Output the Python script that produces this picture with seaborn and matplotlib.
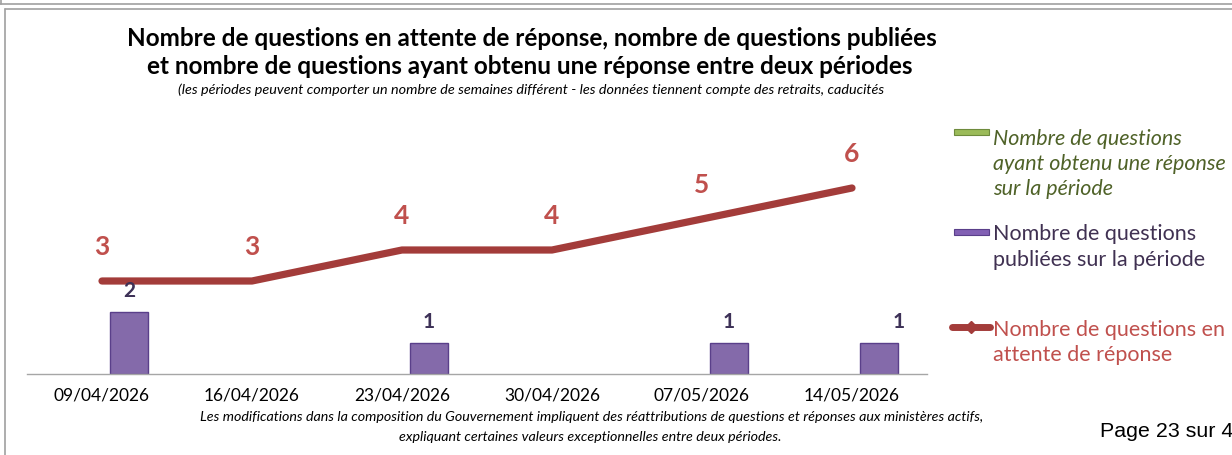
import numpy as np
import pandas as pd
import seaborn as sns
import matplotlib
matplotlib.use("Agg")
from matplotlib import pyplot as plt
from matplotlib.patches import Rectangle
from matplotlib.lines import Line2D

# data
dates = ["09/04/2026", "16/04/2026", "23/04/2026", "30/04/2026", "07/05/2026", "14/05/2026"]
repondues = [0, 0, 0, 0, 0, 0]          # green series (answered)
publiees = [2, 0, 1, 0, 1, 1]           # purple bars (published)
en_attente = [3, 3, 4, 4, 5, 6]         # red line (pending)

lbl_green = "Nombre de questions\nayant obtenu une réponse\nsur la période"
lbl_purple = "Nombre de questions\npubliées sur la période"
lbl_red = "Nombre de questions en\nattente de réponse"

sns.set_style("white")
plt.rcParams['font.family'] = ['Lato', 'DejaVu Sans']

W, H = 1232, 456
fig = plt.figure(figsize=(W / 100, H / 100), dpi=100)

def fx(px):
    return px / W

def fy(py):
    return 1 - py / H

# axes: baseline at y=375px, 31 px per unit
ax = fig.add_axes([fx(27), fy(375), fx(900), (375 - 127) / H])

df = pd.DataFrame({
    "date": dates * 2,
    "serie": ["rep"] * 6 + ["pub"] * 6,
    "val": repondues + publiees,
})
sns.barplot(data=df, x="date", y="val", hue="serie", hue_order=["rep", "pub"],
            palette={"rep": "#9BBB59", "pub": "#8260B4"}, width=0.72, gap=0.3,
            edgecolor="#5A3F8A", linewidth=1, legend=False, ax=ax, errorbar=None)
# hide zero-height green bars
for p in ax.patches:
    if p.get_height() == 0:
        p.set_visible(False)

pos = np.arange(len(dates))
sns.lineplot(x=pos, y=en_attente, color="#A33C3A", linewidth=5.2, ax=ax,
             solid_capstyle="round", solid_joinstyle="round", zorder=3)

ax.set_xlim(-0.5, len(dates) - 0.5)
ax.set_ylim(0, 8)
ax.set_xlabel("")
ax.set_ylabel("")
ax.set_yticks([])
ax.set_xticks(pos)
ax.set_xticklabels(dates, fontsize=12.5, color="black")
ax.tick_params(axis="x", length=0, pad=9)
for s in ["top", "right", "left"]:
    ax.spines[s].set_visible(False)
ax.spines["bottom"].set_color("#A6A6A6")
ax.spines["bottom"].set_linewidth(1)

# value labels
for i, v in enumerate(en_attente):
    ax.annotate(str(v), (i, v), xytext=(0, 25), textcoords="offset points",
                ha="center", va="center", color="#C0504D", fontsize=19, fontweight="bold")
bar_off = 0.18
for i, v in enumerate(publiees):
    if v > 0:
        dx = 14 if i == len(dates) - 1 else 0
        ax.annotate(str(v), (i + bar_off, v), xytext=(dx, 16), textcoords="offset points",
                    ha="center", va="center", color="#3D3157", fontsize=15, fontweight="bold")

# titles
fig.text(fx(532), fy(38), "Nombre de questions en attente de réponse, nombre de questions publiées",
         ha="center", va="center", fontsize=17.5, fontweight="bold", color="black")
fig.text(fx(530), fy(66), "et nombre de questions ayant obtenu une réponse entre deux périodes",
         ha="center", va="center", fontsize=17.5, fontweight="bold", color="black")
fig.text(fx(531), fy(90), "(les périodes peuvent comporter un nombre de semaines différent - les données tiennent compte des retraits, caducités",
         ha="center", va="center", fontsize=10.4, style="italic", color="black")

# footer note
fig.text(fx(592), fy(417), "Les modifications dans la composition du Gouvernement impliquent des réattributions de questions et réponses aux ministères actifs,",
         ha="center", va="center", fontsize=10.3, style="italic", color="black")
fig.text(fx(590), fy(437), "expliquant certaines valeurs exceptionnelles entre deux périodes.",
         ha="center", va="center", fontsize=10.3, style="italic", color="black")
fig.text(fx(1100), fy(432), "Page 23 sur 4", ha="left", va="center", fontsize=15.4,
         family="Liberation Sans", color="black")

# legend
fig.patches.append(Rectangle((fx(954), fy(136)), fx(35), 6 / H, transform=fig.transFigure,
                             facecolor="#9BBB59", edgecolor="#6E8B3D", linewidth=0.8))
fig.text(fx(993), fy(129), lbl_green, ha="left", va="top", fontsize=15.5, style="italic",
         color="#4F6228", linespacing=1.32)
fig.patches.append(Rectangle((fx(954), fy(236)), fx(35), 6 / H, transform=fig.transFigure,
                             facecolor="#8260B4", edgecolor="#5A3F8A", linewidth=0.8))
fig.text(fx(993), fy(224), lbl_purple, ha="left", va="top", fontsize=15.5,
         color="#403152", linespacing=1.4)
fig.lines.append(Line2D([fx(952), fx(990)], [fy(328), fy(328)], transform=fig.transFigure,
                        color="#A33C3A", linewidth=5, solid_capstyle="round"))
fig.lines.append(Line2D([fx(971)], [fy(328)], transform=fig.transFigure, marker="D",
                        markersize=6, color="#A33C3A"))
fig.text(fx(993), fy(320), lbl_red, ha="left", va="top", fontsize=15.5,
         color="#C0504D", linespacing=1.32)

# page frame lines
fig.lines.append(Line2D([0, 1], [fy(5), fy(5)], transform=fig.transFigure, color="#A0A0A0", linewidth=1.2))
fig.lines.append(Line2D([fx(1), fx(1)], [fy(5), 1], transform=fig.transFigure, color="#A0A0A0", linewidth=1.2))
fig.lines.append(Line2D([fx(5), 1], [fy(10), fy(10)], transform=fig.transFigure, color="#A0A0A0", linewidth=1.2))
fig.lines.append(Line2D([fx(5), fx(5)], [fy(10), 0], transform=fig.transFigure, color="#A0A0A0", linewidth=1.2))

fig.savefig("out.png", dpi=100)
